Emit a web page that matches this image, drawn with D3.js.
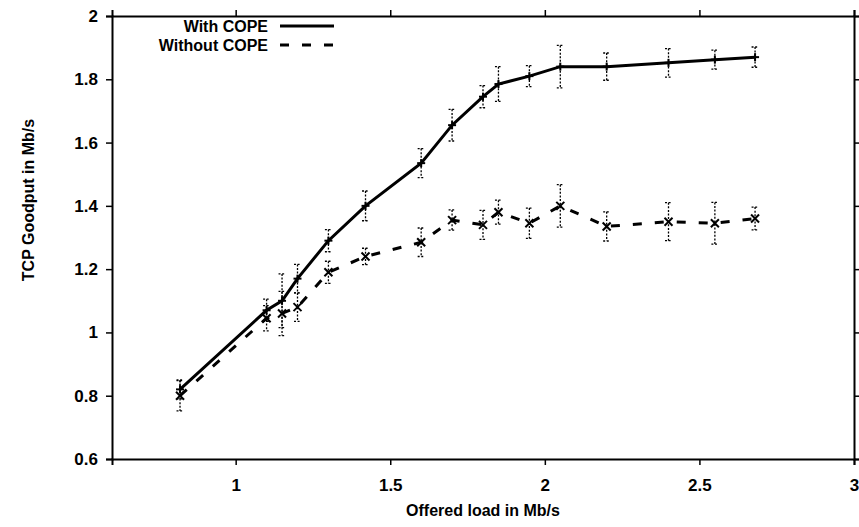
<!DOCTYPE html>
<html><head><meta charset="utf-8">
<script src="https://cdn.jsdelivr.net/npm/d3@7"></script>
<style>body{margin:0;background:#fff}svg{display:block}text{font-family:"Liberation Sans",Arial,sans-serif;fill:#000;font-weight:bold}</style>
</head><body><svg id="c" width="859" height="527"></svg>
<script>
const offeredLoad = [0.82,1.1,1.15,1.2,1.3,1.42,1.6,1.7,1.8,1.85,1.95,2.05,2.2,2.4,2.55,2.68];
const withCope = [0.82,1.07,1.10,1.17,1.29,1.40,1.535,1.655,1.745,1.785,1.81,1.84,1.84,1.852,1.862,1.87];
const withCopeErr = [0.03,0.035,0.085,0.045,0.035,0.047,0.046,0.05,0.035,0.055,0.033,0.067,0.043,0.045,0.03,0.032];
const withoutCope = [0.80,1.045,1.06,1.08,1.19,1.24,1.285,1.355,1.34,1.38,1.345,1.40,1.335,1.35,1.345,1.36];
const withoutCopeErr = [0.048,0.04,0.07,0.045,0.035,0.026,0.045,0.032,0.046,0.038,0.048,0.067,0.046,0.06,0.066,0.036];
const xTicks = [1,1.5,2,2.5,3];
const yTicks = [0.6,0.8,1,1.2,1.4,1.6,1.8,2];
const seriesNames = ["With COPE","Without COPE"];

const svg = d3.select("#c");
const m = {l:112,r:5,t:16,b:68};
const W = 859, H = 527;
const x = d3.scaleLinear().domain([0.6,3]).range([m.l, W-m.r]);
const y = d3.scaleLinear().domain([0.6,2]).range([H-m.b, m.t]);
const fmt = d => String(d);
const FONT = '"Liberation Sans",Arial,sans-serif';

function styleAxis(g){
  g.selectAll(".domain").attr("stroke","#000").attr("stroke-width",2);
  g.selectAll(".tick line").attr("stroke","#000").attr("stroke-width",1.5);
  g.selectAll("text").style("font-size","17px").style("font-family",FONT).style("font-weight","bold");
}
svg.append("g").attr("transform",`translate(0,${H-m.b})`)
  .call(d3.axisBottom(x).tickValues(xTicks).tickFormat(fmt).tickSize(6).tickPadding(14)).call(styleAxis);
svg.append("g").attr("transform",`translate(0,${m.t})`)
  .call(d3.axisTop(x).tickValues(xTicks).tickFormat("").tickSize(6)).call(styleAxis);
svg.append("g").attr("transform",`translate(${m.l},0)`)
  .call(d3.axisLeft(y).tickValues(yTicks).tickFormat(fmt).tickSize(6).tickPadding(8)).call(styleAxis);
svg.append("g").attr("transform",`translate(${W-m.r},0)`)
  .call(d3.axisRight(y).tickValues(yTicks).tickFormat("").tickSize(6)).call(styleAxis);

svg.append("text").attr("x",(m.l+W-m.r)/2).attr("y",516).attr("text-anchor","middle")
  .style("font-size","16px").text("Offered load in Mb/s");
svg.append("text").attr("transform",`translate(34,200) rotate(-90)`).attr("text-anchor","middle")
  .style("font-size","16px").text("TCP Goodput in Mb/s");

const series = [
  {vals:withCope, err:withCopeErr, dash:null, marker:"plus"},
  {vals:withoutCope, err:withoutCopeErr, dash:"9,13", marker:"cross"}
];
series.forEach(s=>{
  const pts = offeredLoad.map((xv,i)=>({x:xv,y:s.vals[i],e:s.err[i]}));
  const eg = svg.append("g").attr("stroke","#000").attr("stroke-width",1.3).attr("stroke-dasharray","2,1.6").attr("fill","none");
  pts.forEach(p=>{
    const px = x(p.x), y1 = y(p.y+p.e), y2 = y(p.y-p.e);
    eg.append("line").attr("x1",px).attr("x2",px).attr("y1",y1).attr("y2",y2);
    eg.append("line").attr("x1",px-3.5).attr("x2",px+3.5).attr("y1",y1).attr("y2",y1);
    eg.append("line").attr("x1",px-3.5).attr("x2",px+3.5).attr("y1",y2).attr("y2",y2);
  });
  svg.append("path").datum(pts).attr("fill","none").attr("stroke","#000").attr("stroke-width",3)
    .attr("stroke-dasharray",s.dash).attr("d",d3.line().x(d=>x(d.x)).y(d=>y(d.y)));
  const mg = svg.append("g").attr("stroke","#000").attr("stroke-width",2);
  pts.forEach(p=>{
    const px=x(p.x), py=y(p.y), r=4;
    if(s.marker==="plus"){
      mg.append("line").attr("x1",px-r).attr("x2",px+r).attr("y1",py).attr("y2",py);
      mg.append("line").attr("x1",px).attr("x2",px).attr("y1",py-r).attr("y2",py+r);
    } else {
      mg.append("line").attr("x1",px-r).attr("x2",px+r).attr("y1",py-r).attr("y2",py+r);
      mg.append("line").attr("x1",px-r).attr("x2",px+r).attr("y1",py+r).attr("y2",py-r);
    }
  });
});

// legend
const leg = svg.append("g");
seriesNames.forEach((n,i)=>{
  const ly = 26 + i*19;
  leg.append("text").attr("x",268).attr("y",ly).attr("dy","0.35em").attr("text-anchor","end")
    .style("font-size","16px").text(n);
  leg.append("line").attr("x1",280).attr("x2",334).attr("y1",ly).attr("y2",ly)
    .attr("stroke","#000").attr("stroke-width",3).attr("stroke-dasharray",series[i].dash);
});
</script></body></html>
